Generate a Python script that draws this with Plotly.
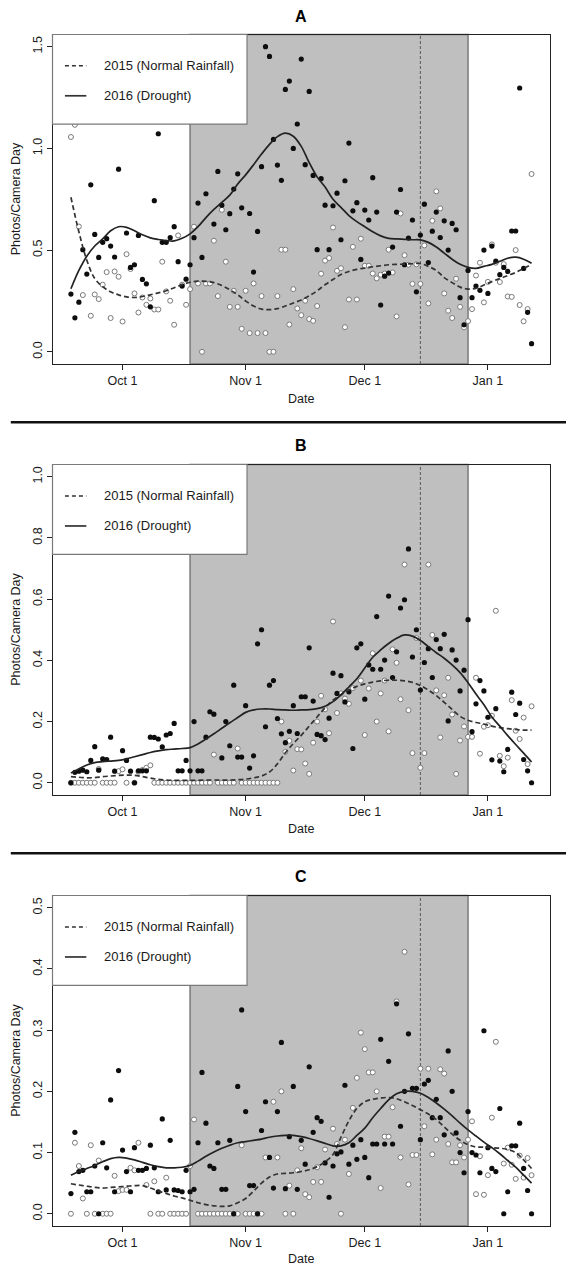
import plotly.graph_objects as go

W, H = 566, 1268
FONT = "Liberation Sans, Arial, Helvetica, sans-serif"

# ---------------- axis categories / labels ----------------
# x values are days counted from Oct 1 (Oct 1 = 0)
DAYS = [-13, -12, -11, -10, -9, -8, -7, -6, -5, -4,
        -3, -2, -1, 0, 1, 2, 3, 4, 5, 6,
        7, 8, 9, 10, 11, 12, 13, 14, 15, 16,
        17, 18, 19, 20, 21, 22, 23, 24, 25, 26,
        27, 28, 29, 30, 31, 32, 33, 34, 35, 36,
        37, 38, 39, 40, 41, 42, 43, 44, 45, 46,
        47, 48, 49, 50, 51, 52, 53, 54, 55, 56,
        57, 58, 59, 60, 61, 62, 63, 64, 65, 66,
        67, 68, 69, 70, 71, 72, 73, 74, 75, 76,
        77, 78, 79, 80, 81, 82, 83, 84, 85, 86,
        87, 88, 89, 90, 91, 92, 93, 94, 95, 96,
        97, 98, 99, 100, 101, 102, 103]
CURVE_DAYS = [-13, -11, -9, -7, -5, -3, -1, 1, 3, 5,
              7, 9, 11, 13, 15, 17, 19, 21, 23, 25,
              27, 29, 31, 33, 35, 37, 39, 41, 43, 45,
              47, 49, 51, 53, 55, 57, 59, 61, 63, 65,
              67, 69, 71, 73, 75, 77, 79, 81, 83, 85,
              87, 89, 91, 93, 95, 97, 99, 101, 103]
TICK_DAYS = [0, 31, 61, 92]
TICK_LABELS = ["Oct 1", "Nov 1", "Dec 1", "Jan 1"]
SHADE_DAYS = [17, 87]      # Oct 18 .. Dec 27
DASH_DAY = 75              # Dec 15
X_RANGE = [-17.64, 107.64]
LEGEND_LABELS = ["2015 (Normal Rainfall)", "2016 (Drought)"]
TITLES = ["A", "B", "C"]

# ---------------- Panel A ----------------
A_YTICKS = [0.0, 0.5, 1.0, 1.5]
A_YLABELS = ["0.0", "0.5", "1.0", "1.5"]
A16 = [0.284, 0.167, 0.244, 0.502, 0.382, 0.821, 0.577, 0.464, 0.538, 0.556,
       0.520, 0.466, 0.898, None, 0.584, 0.415, 0.428, 0.572, 0.356, 0.334,
       0.221, 0.743, 1.072, 0.538, 0.538, 0.561, 0.615, 0.443, 0.323, 0.357,
       0.428, 0.561, 0.731, 0.464, 0.777, None, 0.628, 0.887, 0.721, 0.600,
       0.679, 0.800, 0.875, 0.708, None, 0.680, 0.392, 0.592, 0.910, 1.500,
       1.452, 1.044, 0.918, 0.843, 1.290, 1.331, 1.000, 1.120, 1.439, 0.920,
       1.280, 0.867, 0.502, 0.851, 0.721, 0.502, 0.718, 0.780, 0.551, 0.841,
       1.026, 0.693, 0.733, 0.454, 0.697, 0.648, 0.856, 0.687, 0.230, 0.372,
       0.387, 0.515, 0.687, 0.798, 0.428, 0.559, 0.648, 0.295, 0.574, 0.726,
       0.439, 0.593, 0.687, 0.562, 0.644, 0.500, 0.631, 0.600, 0.266, 0.133,
       0.400, 0.266, 0.323, 0.302, 0.500, 0.287, 0.520, 0.446, 0.379, 0.415,
       0.395, 0.594, 0.594, 1.297, 0.410, 0.194, 0.040]
A15 = [1.056, 1.116, 0.616, 0.279, None, 0.177, 0.282, 0.259, 0.330, 0.392,
       0.166, 0.395, 0.369, 0.149, 0.480, 0.407, 0.287, 0.193, 0.267, 0.231,
       0.262, 0.208, 0.208, 0.443, 0.297, 0.251, 0.133, 0.572, 0.330, 0.231,
       0.308, 0.615, 0.336, 0.000, 0.336, 0.336, 0.546, 0.274, 0.698, 0.443,
       0.221, 0.300, 0.221, 0.113, 0.300, 0.092, 0.336, 0.092, 0.274, 0.092,
       0.000, 0.000, 0.274, 0.502, 0.502, 0.134, 0.308, 0.213, 0.180, 0.251,
       0.161, 0.152, 0.225, 0.384, 0.448, 0.461, 0.611, 0.398, 0.411, 0.121,
       0.257, 0.516, 0.257, 0.556, 0.423, 0.423, 0.385, 0.361, 0.379, 0.385,
       0.502, 0.390, 0.174, 0.680, 0.475, 0.428, 0.334, 0.430, 0.334, 0.523,
       0.238, 0.644, 0.789, 0.705, 0.287, 0.202, 0.166, 0.359, 0.221, 0.120,
       0.151, 0.210, 0.375, 0.438, 0.243, 0.344, 0.528, 0.438, 0.343, 0.431,
       0.272, 0.270, 0.500, 0.230, 0.150, 0.210, 0.874]
A16_FIT = [0.310, 0.400, 0.470, 0.520, 0.555, 0.595, 0.615, 0.612, 0.595, 0.575,
           0.560, 0.552, 0.547, 0.545, 0.558, 0.580, 0.615, 0.660, 0.700, 0.735,
           0.770, 0.825, 0.870, 0.920, 0.972, 1.020, 1.058, 1.075, 1.060, 1.010,
           0.930, 0.860, 0.810, 0.750, 0.710, 0.670, 0.640, 0.615, 0.590, 0.570,
           0.558, 0.555, 0.553, 0.551, 0.550, 0.538, 0.515, 0.485, 0.455, 0.430,
           0.415, 0.410, 0.420, 0.430, 0.445, 0.460, 0.465, 0.455, 0.435]
A15_FIT = [0.760, 0.590, 0.450, 0.360, 0.320, 0.295, 0.280, 0.270, 0.267, 0.272,
           0.280, 0.290, 0.300, 0.315, 0.330, 0.342, 0.347, 0.346, 0.340, 0.326,
           0.305, 0.280, 0.250, 0.225, 0.210, 0.207, 0.212, 0.225, 0.240, 0.255,
           0.275, 0.300, 0.330, 0.355, 0.380, 0.395, 0.405, 0.412, 0.418, 0.423,
           0.428, 0.430, 0.431, 0.433, 0.434, 0.420, 0.400, 0.365, 0.340, 0.318,
           0.308, 0.312, 0.328, 0.345, 0.360, 0.375, 0.390, 0.410, 0.430]

# ---------------- Panel B ----------------
B_YTICKS = [0.0, 0.2, 0.4, 0.6, 0.8, 1.0]
B_YLABELS = ["0.0", "0.2", "0.4", "0.6", "0.8", "1.0"]
B16 = [0.000, 0.034, 0.038, 0.041, 0.036, 0.073, 0.118, 0.041, 0.078, 0.076,
       0.149, 0.038, None, 0.105, 0.073, 0.038, 0.000, 0.039, 0.039, 0.039,
       0.149, 0.148, 0.143, 0.117, 0.156, 0.161, 0.194, 0.039, 0.039, 0.073,
       0.039, 0.200, 0.039, 0.039, 0.149, 0.232, 0.224, None, 0.081, 0.200,
       0.121, 0.319, 0.084, 0.084, 0.252, 0.048, 0.088, 0.454, 0.500, 0.183,
       0.319, 0.334, 0.210, 0.160, 0.131, 0.168, 0.252, 0.161, 0.281, 0.281,
       0.441, 0.267, 0.158, 0.154, 0.141, 0.211, 0.358, 0.292, 0.350, 0.264,
       0.297, 0.112, 0.441, 0.454, 0.273, 0.385, 0.371, 0.543, 0.371, 0.401,
       0.610, 0.344, 0.428, 0.571, 0.598, 0.764, 0.411, 0.500, 0.303, 0.393,
       0.438, 0.344, 0.468, 0.438, 0.485, 0.202, 0.434, 0.401, 0.300, 0.368,
       0.533, 0.167, 0.258, 0.334, 0.300, 0.214, 0.075, 0.242, 0.071, 0.036,
       0.109, 0.296, 0.223, 0.260, 0.076, 0.039, 0.000]
B15 = [0.000, 0.000, 0.000, 0.000, 0.000, 0.000, 0.000, 0.045, 0.000, 0.000,
       0.000, 0.000, 0.038, 0.044, 0.000, None, 0.000, 0.036, 0.042, 0.049,
       0.057, 0.000, 0.000, 0.000, 0.000, 0.000, 0.000, 0.000, 0.000, 0.000,
       0.000, 0.000, 0.000, 0.000, 0.000, 0.000, 0.092, 0.000, 0.000, 0.000,
       0.000, 0.000, 0.112, 0.000, 0.000, 0.000, 0.000, 0.000, 0.000, 0.000,
       0.000, 0.000, 0.000, 0.200, 0.101, 0.137, 0.040, 0.110, 0.109, 0.063,
       0.029, 0.131, 0.200, 0.284, 0.240, 0.162, 0.527, 0.228, 0.292, 0.275,
       0.258, 0.309, None, 0.334, 0.156, 0.308, 0.423, 0.200, 0.292, 0.334,
       0.168, 0.436, 0.392, 0.273, 0.713, 0.237, 0.097, 0.473, 0.049, 0.097,
       0.713, 0.483, 0.302, 0.148, 0.286, 0.343, 0.223, 0.029, 0.138, 0.184,
       0.150, 0.150, 0.343, 0.095, 0.183, 0.188, 0.219, 0.562, 0.088, 0.054,
       0.082, 0.270, 0.170, 0.143, 0.213, 0.061, 0.250]
B16_FIT = [0.032, 0.045, 0.058, 0.066, 0.069, 0.071, 0.073, 0.078, 0.085, 0.092,
           0.099, 0.104, 0.108, 0.110, 0.112, 0.115, 0.127, 0.143, 0.160, 0.178,
           0.196, 0.213, 0.230, 0.238, 0.241, 0.241, 0.239, 0.238, 0.237, 0.238,
           0.239, 0.242, 0.250, 0.265, 0.287, 0.313, 0.340, 0.375, 0.410, 0.434,
           0.455, 0.472, 0.483, 0.479, 0.465, 0.445, 0.425, 0.407, 0.385, 0.360,
           0.327, 0.290, 0.255, 0.215, 0.185, 0.154, 0.125, 0.097, 0.068]
B15_FIT = [0.020, 0.018, 0.016, 0.017, 0.020, 0.022, 0.024, 0.025, 0.024, 0.020,
           0.015, 0.011, 0.009, 0.008, 0.008, 0.008, 0.008, 0.009, 0.009, 0.009,
           0.009, 0.010, 0.012, 0.016, 0.022, 0.035, 0.062, 0.098, 0.128, 0.155,
           0.185, 0.215, 0.245, 0.270, 0.288, 0.303, 0.315, 0.323, 0.329, 0.333,
           0.335, 0.335, 0.333, 0.328, 0.318, 0.303, 0.285, 0.263, 0.240, 0.217,
           0.204, 0.197, 0.192, 0.185, 0.180, 0.177, 0.174, 0.172, 0.172]

# ---------------- Panel C ----------------
C_YTICKS = [0.0, 0.1, 0.2, 0.3, 0.4, 0.5]
C_YLABELS = ["0.0", "0.1", "0.2", "0.3", "0.4", "0.5"]
C16 = [0.033, 0.133, 0.069, 0.071, 0.036, 0.036, 0.078, 0.000, 0.116, 0.075,
       0.186, 0.036, 0.234, 0.104, 0.069, 0.036, 0.108, 0.071, 0.071, 0.074,
       0.112, 0.075, 0.036, 0.155, 0.039, 0.120, 0.039, 0.038, 0.036, 0.071,
       0.036, 0.040, 0.116, 0.231, 0.148, 0.078, 0.074, 0.116, 0.040, 0.040,
       0.120, 0.000, 0.208, 0.333, 0.167, 0.046, 0.046, 0.000, 0.136, 0.183,
       0.092, 0.042, 0.167, 0.280, 0.041, 0.126, 0.208, 0.040, 0.120, 0.081,
       0.240, 0.133, 0.157, 0.151, 0.083, 0.027, 0.078, 0.098, 0.101, 0.210,
       0.081, 0.112, 0.089, 0.121, 0.092, 0.059, 0.114, 0.114, 0.285, 0.114,
       0.249, 0.114, 0.343, 0.143, 0.200, 0.294, 0.205, 0.205, 0.121, 0.212,
       0.218, 0.157, 0.187, 0.157, 0.129, 0.266, 0.200, 0.132, 0.100, 0.067,
       0.167, 0.100, 0.096, 0.067, 0.299, 0.108, 0.074, 0.069, 0.172, 0.000,
       0.036, 0.111, 0.111, 0.148, 0.074, 0.038, 0.000]
C15 = [0.000, 0.116, 0.078, 0.025, 0.000, 0.112, 0.000, 0.087, 0.000, 0.000,
       0.000, 0.062, 0.037, 0.039, 0.039, 0.075, 0.071, 0.116, None, 0.047,
       0.000, 0.053, 0.000, 0.000, 0.059, 0.000, 0.000, 0.000, 0.000, 0.000,
       0.078, 0.154, 0.000, 0.000, 0.000, 0.000, 0.000, 0.000, 0.000, 0.000,
       0.000, 0.000, 0.000, 0.112, 0.000, 0.000, 0.000, 0.000, 0.000, 0.092,
       None, 0.183, 0.092, 0.200, 0.000, 0.046, 0.000, 0.071, 0.107, 0.032,
       0.027, 0.052, 0.076, 0.052, 0.105, None, 0.139, 0.114, 0.000, 0.121,
       0.065, 0.173, 0.222, 0.296, 0.269, 0.231, 0.231, 0.200, 0.042, 0.126,
       0.126, 0.174, 0.347, 0.092, 0.428, 0.048, 0.096, 0.096, 0.237, 0.143,
       0.237, 0.097, 0.121, 0.236, 0.229, 0.114, 0.084, 0.084, 0.112, 0.092,
       0.121, 0.151, 0.032, 0.094, 0.031, 0.063, 0.157, 0.281, None, 0.082,
       0.108, 0.080, 0.057, 0.095, 0.059, 0.091, 0.063]
C16_FIT = [0.063, 0.069, 0.074, 0.079, 0.085, 0.090, 0.092, 0.091, 0.088, 0.084,
           0.080, 0.077, 0.075, 0.075, 0.076, 0.079, 0.086, 0.094, 0.101, 0.107,
           0.112, 0.116, 0.118, 0.120, 0.122, 0.125, 0.127, 0.128, 0.128, 0.126,
           0.123, 0.119, 0.115, 0.111, 0.111, 0.116, 0.128, 0.140, 0.157, 0.172,
           0.186, 0.196, 0.200, 0.200, 0.197, 0.190, 0.181, 0.171, 0.160, 0.148,
           0.137, 0.127, 0.117, 0.108, 0.098, 0.087, 0.076, 0.063, 0.050]
C15_FIT = [0.049, 0.047, 0.045, 0.043, 0.042, 0.043, 0.044, 0.045, 0.046, 0.046,
           0.042, 0.037, 0.033, 0.029, 0.026, 0.022, 0.018, 0.015, 0.013, 0.012,
           0.013, 0.018, 0.025, 0.037, 0.050, 0.060, 0.065, 0.066, 0.067, 0.069,
           0.072, 0.077, 0.085, 0.097, 0.125, 0.152, 0.172, 0.183, 0.187, 0.189,
           0.190, 0.188, 0.183, 0.177, 0.170, 0.163, 0.154, 0.142, 0.130, 0.120,
           0.113, 0.109, 0.109, 0.108, 0.107, 0.105, 0.100, 0.088, 0.074]

# ---------------- layout geometry (pixels) ----------------
XL, XR = 52.5, 550.0
PANELS = [
    dict(title=TITLES[0], v16=A16, v15=A15, f16=A16_FIT, f15=A15_FIT,
         yt=A_YTICKS, yl=A_YLABELS, yr=[-0.06, 1.56],
         top=34.5, bot=364.0, ty=16.0, dy=399.0),
    dict(title=TITLES[1], v16=B16, v15=B15, f16=B16_FIT, f15=B15_FIT,
         yt=B_YTICKS, yl=B_YLABELS, yr=[-0.04, 1.04],
         top=464.5, bot=795.0, ty=445.0, dy=829.0),
    dict(title=TITLES[2], v16=C16, v15=C15, f16=C16_FIT, f15=C15_FIT,
         yt=C_YTICKS, yl=C_YLABELS, yr=[-0.02, 0.52],
         top=895.5, bot=1226.0, ty=876.7, dy=1259.0),
]
SEPARATORS = [422.3, 853.3]

TXT = "#1a1a1a"
AX = "#222222"

fig = go.Figure()
shapes = []
annotations = []
layout_axes = {}

for i, p in enumerate(PANELS):
    n = i + 1
    sfx = "" if n == 1 else str(n)
    xa, ya = "x" + sfx, "y" + sfx

    fig.add_trace(go.Scatter(
        x=DAYS, y=p["v15"], mode="markers", xaxis=xa, yaxis=ya,
        marker=dict(size=5, color="white", line=dict(color="#7a7a7a", width=1)),
        showlegend=False, hoverinfo="skip"))
    fig.add_trace(go.Scatter(
        x=DAYS, y=p["v16"], mode="markers", xaxis=xa, yaxis=ya,
        marker=dict(size=5.2, color="#0d0d0d", line=dict(width=0)),
        showlegend=False, hoverinfo="skip"))
    fig.add_trace(go.Scatter(
        x=CURVE_DAYS, y=p["f15"], mode="lines", xaxis=xa, yaxis=ya,
        line=dict(color="#333333", width=1.7, dash="5px,3px", shape="spline", smoothing=1.0),
        showlegend=False, hoverinfo="skip"))
    fig.add_trace(go.Scatter(
        x=CURVE_DAYS, y=p["f16"], mode="lines", xaxis=xa, yaxis=ya,
        line=dict(color="#222222", width=1.7, shape="spline", smoothing=1.0),
        showlegend=False, hoverinfo="skip"))

    ydom = [1 - p["bot"] / H, 1 - p["top"] / H]
    layout_axes["xaxis" + sfx] = dict(
        domain=[XL / W, XR / W], range=X_RANGE, anchor=ya,
        tickvals=TICK_DAYS, ticktext=TICK_LABELS,
        ticks="outside", ticklen=5, tickwidth=1, tickcolor=AX,
        showline=True, linecolor=AX, linewidth=1, mirror=True,
        showgrid=False, zeroline=False,
        tickfont=dict(family=FONT, size=12.5, color=TXT))
    layout_axes["yaxis" + sfx] = dict(
        domain=ydom, range=p["yr"], anchor=xa,
        tickvals=p["yt"], ticktext=p["yl"], tickangle=-90,
        ticks="outside", ticklen=5, tickwidth=1, tickcolor=AX,
        showline=True, linecolor=AX, linewidth=1, mirror=True,
        showgrid=False, zeroline=False,
        tickfont=dict(family=FONT, size=12.5, color=TXT))

    # shaded period and dashed marker
    shapes.append(dict(type="rect", xref=xa, yref=ya + " domain",
                       x0=SHADE_DAYS[0], x1=SHADE_DAYS[1], y0=0, y1=1,
                       fillcolor="#bfbfbf", line=dict(color="#7a7a7a", width=1.5),
                       layer="below"))
    shapes.append(dict(type="line", xref=xa, yref=ya + " domain",
                       x0=DASH_DAY, x1=DASH_DAY, y0=0, y1=1,
                       line=dict(color="#5a5a5a", width=1, dash="3px,2px"),
                       layer="below"))
    # legend box
    shapes.append(dict(type="rect", xref=xa + " domain", yref=ya + " domain",
                       x0=0, x1=0.391, y0=0.728, y1=1,
                       fillcolor="white", line=dict(color="#7a7a7a", width=1.2),
                       layer="above"))
    shapes.append(dict(type="line", xref=xa + " domain", yref=ya + " domain",
                       x0=0.025, x1=0.068, y0=0.905, y1=0.905,
                       line=dict(color="#333333", width=1.5, dash="4px,3px"),
                       layer="above"))
    shapes.append(dict(type="line", xref=xa + " domain", yref=ya + " domain",
                       x0=0.025, x1=0.068, y0=0.814, y1=0.814,
                       line=dict(color="#333333", width=1.7),
                       layer="above"))
    for lab, yy in zip(LEGEND_LABELS, [0.905, 0.814]):
        annotations.append(dict(text=lab, xref=xa + " domain", yref=ya + " domain",
                                x=0.1, y=yy, xanchor="left", yanchor="middle",
                                showarrow=False,
                                font=dict(family=FONT, size=13, color=TXT)))
    # title, axis titles
    annotations.append(dict(text="<b>%s</b>" % p["title"], xref="paper", yref="paper",
                            x=(XL + XR) / 2 / W, y=1 - p["ty"] / H,
                            xanchor="center", yanchor="middle", showarrow=False,
                            font=dict(family=FONT, size=16, color="#000")))
    annotations.append(dict(text="Date", xref="paper", yref="paper",
                            x=(XL + XR) / 2 / W, y=1 - p["dy"] / H,
                            xanchor="center", yanchor="middle", showarrow=False,
                            font=dict(family=FONT, size=12.5, color=TXT)))
    annotations.append(dict(text="Photos/Camera Day", xref="paper", yref="paper",
                            x=16 / W, y=1 - (p["top"] + p["bot"]) / 2 / H,
                            xanchor="center", yanchor="middle", textangle=-90,
                            showarrow=False,
                            font=dict(family=FONT, size=12.5, color=TXT)))

for sy in SEPARATORS:
    shapes.append(dict(type="line", xref="paper", yref="paper",
                       x0=10.8 / W, x1=1, y0=1 - sy / H, y1=1 - sy / H,
                       line=dict(color="#111111", width=2.6)))

fig.update_layout(
    width=W, height=H, autosize=False,
    margin=dict(l=0, r=0, t=0, b=0),
    paper_bgcolor="white", plot_bgcolor="white",
    showlegend=False, shapes=shapes, annotations=annotations,
    font=dict(family=FONT, color=TXT),
    **layout_axes)

# remove the browser's default 8px page margin so the figure sits at (0, 0)
fig.write_html("out.html",
               config={"displayModeBar": False, "staticPlot": True},
               post_script="document.body.style.margin='0px';"
                           "document.body.style.overflow='hidden';")
